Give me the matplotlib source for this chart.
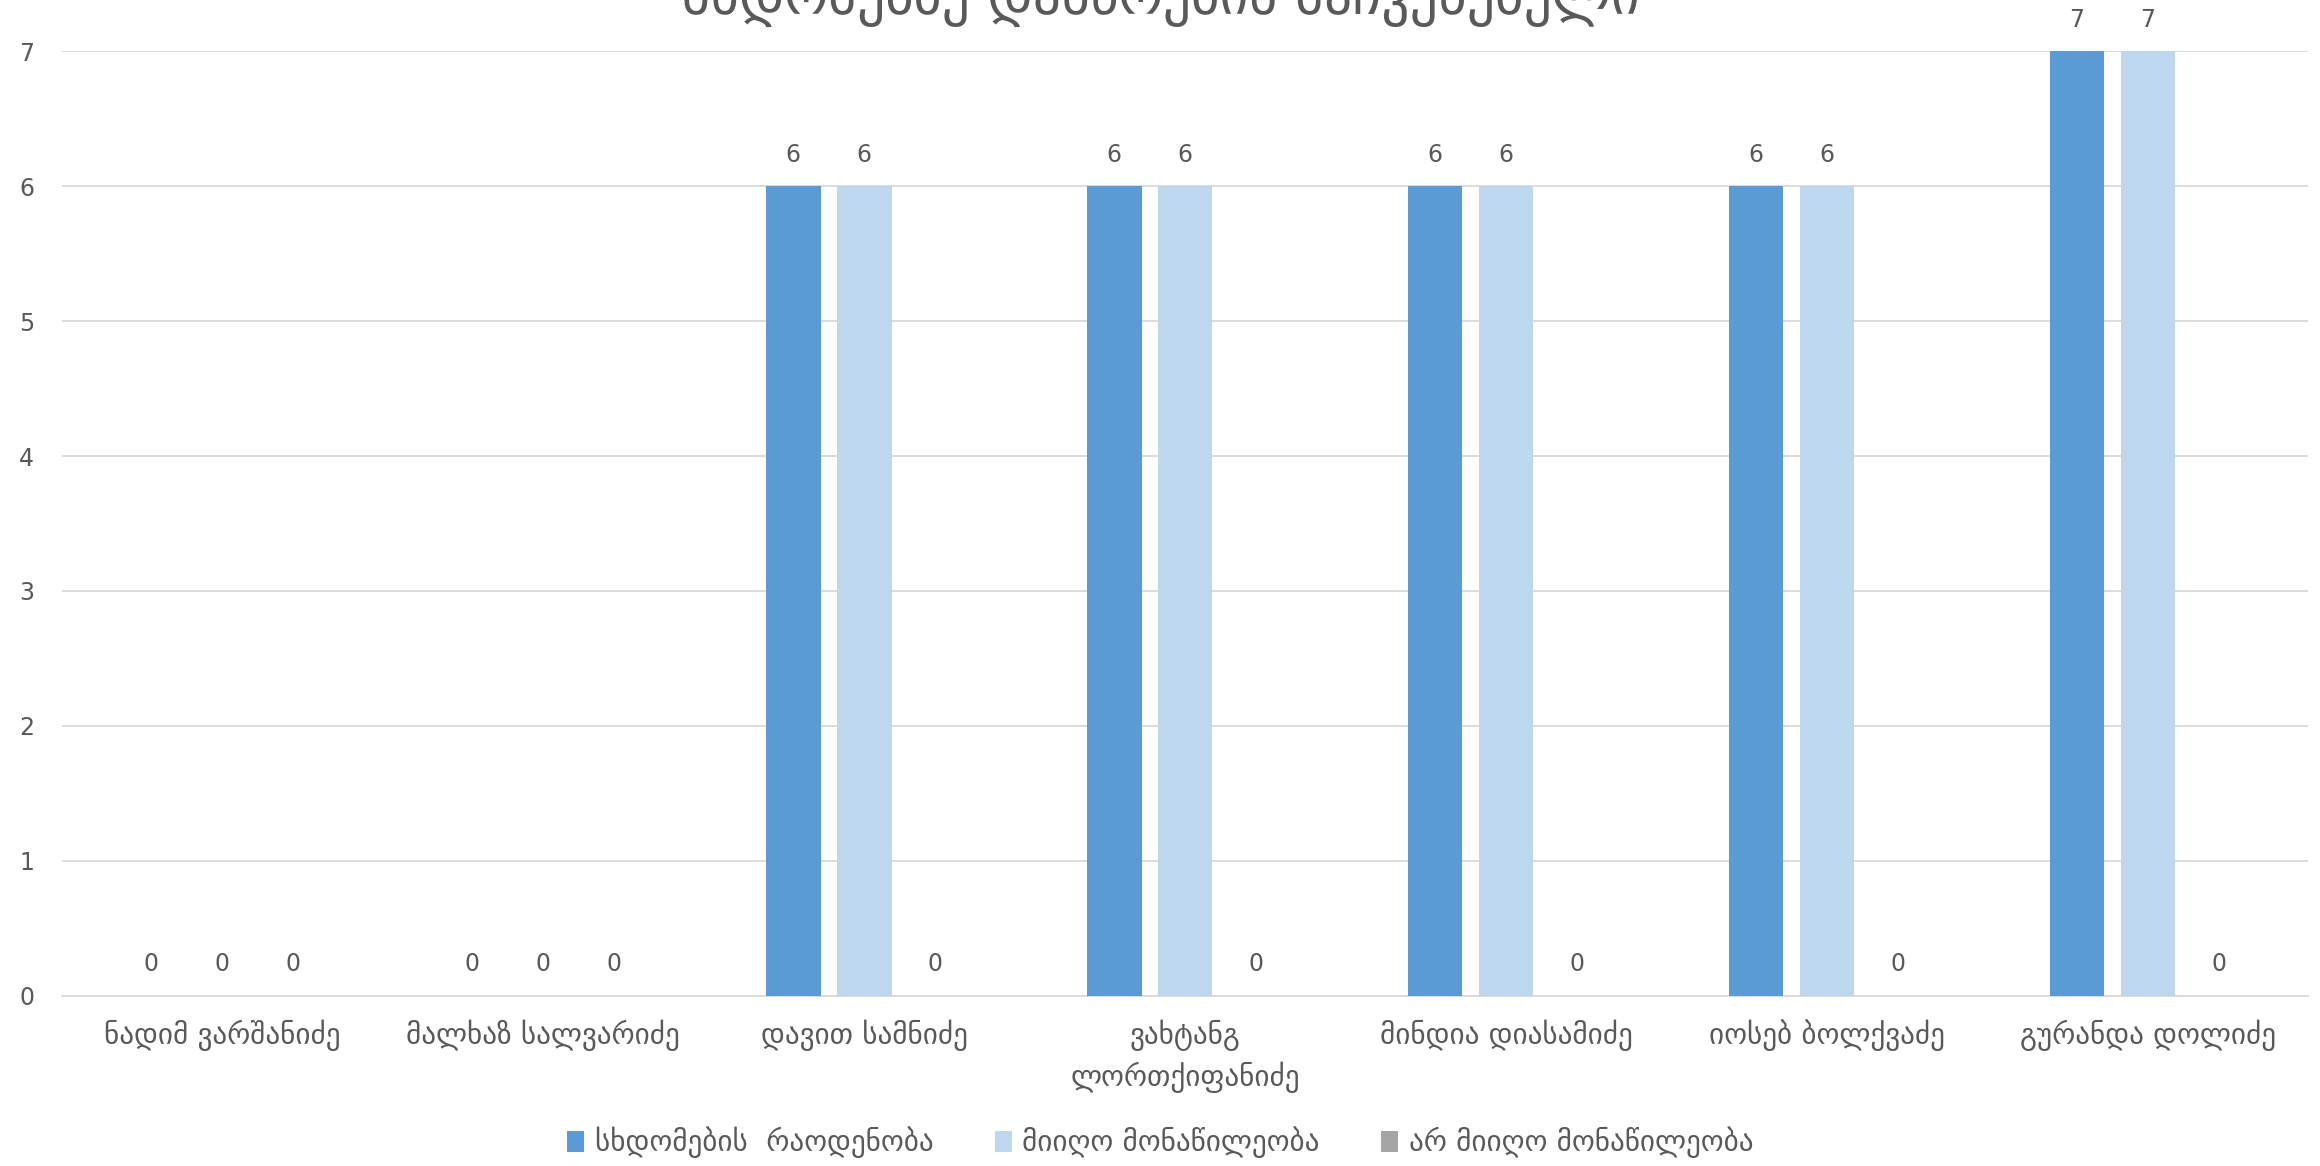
import numpy as np
import matplotlib.pyplot as plt

# Data
members = ["ნადიმ ვარშანიძე", "მალხაზ სალვარიძე", "დავით სამნიძე",
           "ვახტანგ\nლორთქიფანიძე", "მინდია დიასამიძე", "იოსებ ბოლქვაძე",
           "გურანდა დოლიძე"]
sessions = [0, 0, 6, 6, 6, 6, 7]
attended = [0, 0, 6, 6, 6, 6, 7]
absent = [0, 0, 0, 0, 0, 0, 0]
series_names = ["სხდომების  რაოდენობა", "მიიღო მონაწილეობა", "არ მიიღო მონაწილეობა"]
colors = ["#5B9BD5", "#BDD7EE", "#A5A5A5"]
text_color = "#595959"

plt.rcParams['font.family'] = ['DejaVu Sans']

fig = plt.figure(figsize=(23.2, 11.66), dpi=100)
ax = fig.add_axes([0.0267, 0.146, 0.9683, 0.81])

x = np.arange(len(members))
width = 0.17
step = 0.221
for i, (vals, name) in enumerate(zip([sessions, attended, absent], series_names)):
    bars = ax.bar(x + (i - 1) * step, vals, width, color=colors[i], label=name, zorder=3)
    for b, v in zip(bars, vals):
        ax.annotate(str(v), (b.get_x() + b.get_width() / 2, v), xytext=(0, 14),
                    textcoords='offset points', ha='center', va='bottom',
                    fontsize=17, color=text_color)

ax.set_xlim(-0.5, len(members) - 0.5)
ax.set_ylim(0, 7)
ax.set_yticks(range(8))
ax.grid(axis='y', color='#D9D9D9', linewidth=1.3, zorder=0)
for s in ['top', 'right', 'left']:
    ax.spines[s].set_visible(False)
ax.spines['bottom'].set_color('#D9D9D9')
ax.spines['bottom'].set_linewidth(1.3)
ax.tick_params(axis='both', length=0, colors=text_color, labelsize=17)
ax.tick_params(axis='y', pad=20)
ax.tick_params(axis='x', pad=17)
ax.set_xticks(x)
ax.set_xticklabels(members, fontsize=21, color=text_color, linespacing=1.45)

# title, cut off at the top edge as in the reference
fig.text(0.5, 1.003, "სხდომებზე დასწრების მაჩვენებელი", ha='center', va='center',
         fontsize=40, color=text_color)

leg = fig.legend(loc='lower center', bbox_to_anchor=(0.5, -0.016), ncol=3, frameon=False,
                 fontsize=21, handlelength=0.6, handleheight=0.75, columnspacing=2.1,
                 handletextpad=0.35)
for t in leg.get_texts():
    t.set_color(text_color)

fig.savefig("out.png", dpi=100)
